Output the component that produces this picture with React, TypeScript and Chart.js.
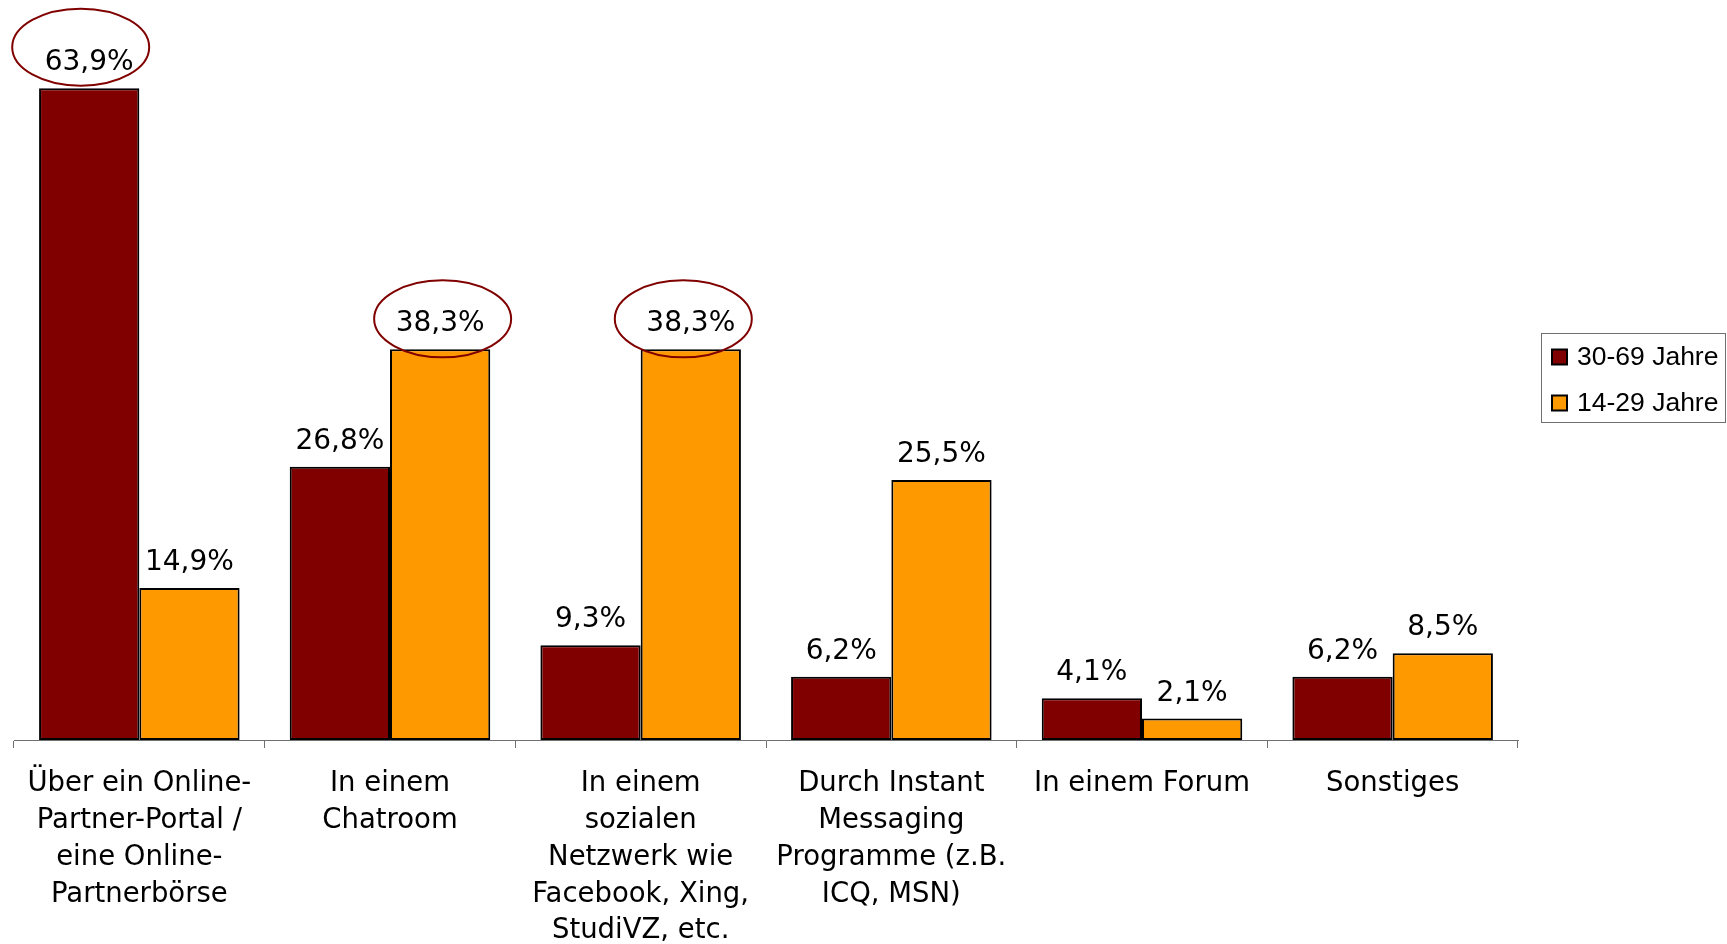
import React, { useEffect, useRef } from "react";
import { Chart, registerables } from "chart.js";

Chart.register(...registerables);

const categories: string[][] = [
  ["Über ein Online-", "Partner-Portal /", "eine Online-", "Partnerbörse"],
  ["In einem", "Chatroom"],
  ["In einem", "sozialen", "Netzwerk wie", "Facebook, Xing,", "StudiVZ, etc."],
  ["Durch Instant", "Messaging", "Programme (z.B.", "ICQ, MSN)"],
  ["In einem Forum"],
  ["Sonstiges"],
];

const seriesNames = ["30-69 Jahre", "14-29 Jahre"];
const olderValues = [63.9, 26.8, 9.3, 6.2, 4.1, 6.2];
const youngerValues = [14.9, 38.3, 38.3, 25.5, 2.1, 8.5];
const seriesColors = ["#800000", "#FF9900"];

// highlighted bars: [datasetIndex, dataIndex]
const highlighted: [number, number][] = [
  [0, 0],
  [1, 1],
  [1, 2],
];

const FONT = "'DejaVu Sans', Verdana, sans-serif";

const fmt = (v: number) => v.toFixed(1).replace(".", ",") + "%";

const overlayPlugin = {
  id: "overlay",
  afterDatasetsDraw(chart: any) {
    const ctx: CanvasRenderingContext2D = chart.ctx;
    ctx.save();
    // value labels
    ctx.fillStyle = "#000";
    ctx.font = `28px ${FONT}`;
    ctx.textAlign = "center";
    ctx.textBaseline = "alphabetic";
    chart.data.datasets.forEach((ds: any, di: number) => {
      const meta = chart.getDatasetMeta(di);
      meta.data.forEach((bar: any, i: number) => {
        ctx.fillText(fmt(ds.data[i]), bar.x, bar.y - 18);
      });
    });
    // ellipses
    const offs: [number, number][] = [
      [-8.5, -41],
      [2.5, -30.5],
      [-7.5, -30.5],
    ];
    ctx.strokeStyle = "#800000";
    ctx.lineWidth = 2;
    highlighted.forEach(([di, i], k) => {
      const bar: any = chart.getDatasetMeta(di).data[i];
      ctx.beginPath();
      ctx.ellipse(bar.x + offs[k][0], bar.y + offs[k][1], 68.5, 38.5, 0, 0, Math.PI * 2);
      ctx.stroke();
    });
    // legend
    const lx = 1541, ly = 333, lw = 185, lh = 90;
    ctx.fillStyle = "#fff";
    ctx.fillRect(lx, ly, lw, lh);
    ctx.strokeStyle = "#707070";
    ctx.lineWidth = 1;
    ctx.strokeRect(lx + 0.5, ly + 0.5, lw - 1, lh - 1);
    ctx.font = `26.5px 'Liberation Sans', Arial, sans-serif`;
    ctx.textAlign = "left";
    ctx.textBaseline = "middle";
    chart.data.datasets.forEach((ds: any, di: number) => {
      const cy = 357 + di * 46;
      ctx.fillStyle = ds.backgroundColor;
      ctx.fillRect(1552, cy - 7.5, 15, 15);
      ctx.strokeStyle = "#000";
      ctx.lineWidth = 2;
      ctx.strokeRect(1552, cy - 7.5, 15, 15);
      ctx.fillStyle = "#000";
      ctx.fillText(ds.label, 1577, cy + 1);
    });
    ctx.restore();
  },
};

export default function App() {
  const ref = useRef<HTMLCanvasElement>(null);
  useEffect(() => {
    if (!ref.current) return;
    const chart = new Chart(ref.current, {
      type: "bar",
      data: {
        labels: categories,
        datasets: [
          {
            label: seriesNames[0],
            data: olderValues,
            backgroundColor: seriesColors[0],
            borderColor: "#000",
            borderWidth: 2,
            borderSkipped: false,
            categoryPercentage: 0.8,
            barPercentage: 1,
          },
          {
            label: seriesNames[1],
            data: youngerValues,
            backgroundColor: seriesColors[1],
            borderColor: "#000",
            borderWidth: 2,
            borderSkipped: false,
            categoryPercentage: 0.8,
            barPercentage: 1,
          },
        ],
      },
      options: {
        animation: false,
        responsive: false,
        maintainAspectRatio: false,
        devicePixelRatio: 1,
        layout: { padding: { top: 26, left: 14, right: 209, bottom: 0 } },
        plugins: {
          legend: { display: false },
          tooltip: { enabled: false },
        },
        scales: {
          x: {
            offset: true,
            grid: {
              display: true,
              offset: true,
              drawOnChartArea: false,
              drawTicks: true,
              tickLength: 8,
              color: "#707070",
              lineWidth: 1,
            },
            border: { display: true, color: "#707070", width: 1 },
            ticks: {
              color: "#000",
              font: { family: FONT, size: 27.5, lineHeight: 1.335 },
              padding: 18,
              maxRotation: 0,
              minRotation: 0,
              autoSkip: false,
            },
            afterFit: (scale: any) => {
              scale.height = 204;
            },
          },
          y: {
            display: false,
            min: 0,
            max: 70,
          },
        },
      },
      plugins: [overlayPlugin],
    });
    return () => chart.destroy();
  }, []);
  return (
    <div style={{ position: "absolute", left: 0, top: 0, width: 1727, height: 944, background: "#fff" }}>
      <canvas ref={ref} width={1727} height={944} style={{ width: 1727, height: 944, display: "block" }} />
    </div>
  );
}
